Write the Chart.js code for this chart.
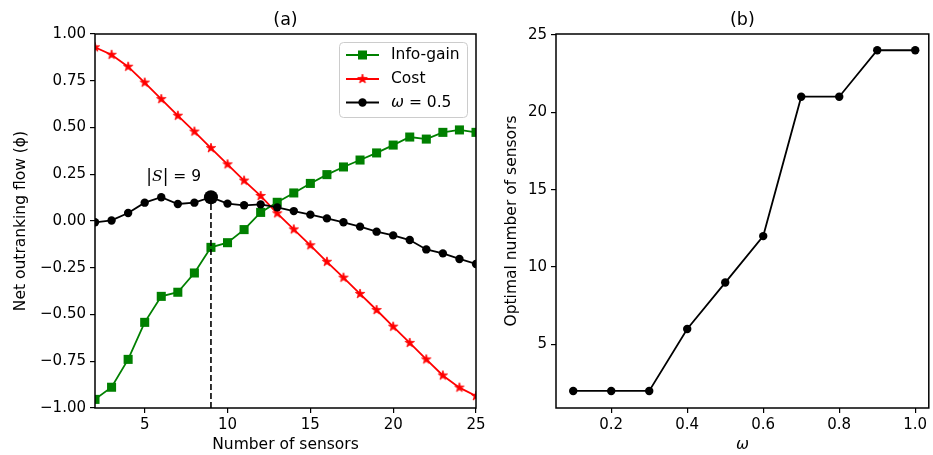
<!DOCTYPE html>
<html><head><meta charset="utf-8">
<script src="https://cdn.jsdelivr.net/npm/chart.js@4/dist/chart.umd.min.js"></script>
<style>
html,body{margin:0;padding:0;background:#fff;width:933px;height:455px;overflow:hidden}
#c1{position:absolute;left:0;top:0}
#c2{position:absolute;left:490px;top:0}
</style></head><body>
<canvas id="c1" width="490" height="455"></canvas>
<canvas id="c2" width="443" height="455"></canvas>
<script>
// ---------- data, panel (a) ----------
const sensors   = [2,3,4,5,6,7,8,9,10,11,12,13,14,15,16,17,18,19,20,21,22,23,24,25];
const infoGain  = [-0.954,-0.889,-0.740,-0.542,-0.403,-0.381,-0.278,-0.141,-0.116,-0.046,0.046,0.100,
                   0.150,0.201,0.248,0.289,0.326,0.364,0.406,0.449,0.438,0.474,0.487,0.474];
const cost      = [0.929,0.889,0.825,0.740,0.652,0.563,0.478,0.390,0.303,0.216,0.134,0.041,
                   -0.045,-0.130,-0.218,-0.303,-0.390,-0.476,-0.565,-0.652,-0.740,-0.826,-0.891,-0.936];
const omegaHalf = [-0.007,0.003,0.043,0.098,0.127,0.091,0.098,0.127,0.093,0.084,0.089,0.073,
                   0.053,0.034,0.014,-0.007,-0.030,-0.057,-0.077,-0.102,-0.152,-0.173,-0.203,-0.230];
const bestSize  = 9;
const seriesLabels = ['Info-gain','Cost','ω = 0.5'];
const sensorTicks = [5,10,15,20,25];
const flowTicks   = [-1,-0.75,-0.5,-0.25,0,0.25,0.5,0.75,1];
// ---------- data, panel (b) ----------
const omegas        = [0.1,0.2,0.3,0.4,0.5,0.6,0.7,0.8,0.9,1.0];
const optimalCounts = [2,2,2,6,9,12,21,21,24,24];
const omegaTicks    = [0.2,0.4,0.6,0.8,1.0];
const countTicks    = [5,10,15,20,25];

const FONT = "'DejaVu Sans'";
Chart.defaults.font.family = FONT;
Chart.defaults.font.size = 15;
Chart.defaults.color = '#000';
Chart.defaults.animation = false;

const GREEN = '#008000', RED = '#ff0000', BLACK = '#000000';

// filled five-point star marker (matplotlib '*')
function makeStar(rOut, color){
  const s = Math.ceil(rOut*2+2);
  const c = document.createElement('canvas'); c.width = s; c.height = s;
  const g = c.getContext('2d');
  const cx = s/2, cy = s/2, rIn = rOut*0.382;
  g.beginPath();
  for(let k=0;k<10;k++){
    const r = k%2===0 ? rOut : rIn;
    const a = -Math.PI/2 + k*Math.PI/5;
    const px = cx + r*Math.cos(a), py = cy + r*Math.sin(a);
    k===0 ? g.moveTo(px,py) : g.lineTo(px,py);
  }
  g.closePath();
  g.fillStyle = color; g.fill();
  g.strokeStyle = color; g.lineWidth = 0.8; g.stroke();
  return c;
}
const starImg = makeStar(5.0, RED);

function minusFmt(v, d){ const s = Math.abs(v).toFixed(d); return v < -1e-9 ? '\u2212'+s : s; }

const frame = {
  id:'frame',
  afterDatasetsDraw(chart){
    const {ctx, chartArea:a} = chart;
    ctx.save(); ctx.strokeStyle='#000'; ctx.lineWidth=1.5;
    ctx.strokeRect(a.left, a.top, a.right-a.left, a.bottom-a.top);
    ctx.restore();
  }
};
function panelTitle(text){
  return { id:'ptitle', afterDraw(chart){
    const {ctx, chartArea:a} = chart;
    ctx.save(); ctx.font = "17.5px "+FONT; ctx.fillStyle='#000';
    ctx.textAlign='center'; ctx.textBaseline='middle';
    ctx.fillText(text, (a.left+a.right)/2, 20.5);
    ctx.restore();
  }};
}

const legendPlugin = {
  id:'mplLegend',
  afterDraw(chart){
    const ctx = chart.ctx;
    const x0 = 339.5, y0 = 42.5, w = 128, h = 75, r = 4;
    ctx.save();
    ctx.beginPath(); ctx.roundRect(x0,y0,w,h,r);
    ctx.fillStyle='rgba(255,255,255,0.8)'; ctx.fill();
    ctx.strokeStyle='#cccccc'; ctx.lineWidth=1; ctx.stroke();
    const rows = [55, 79, 102.5];
    const cols = [GREEN, RED, BLACK];
    rows.forEach((ry,i)=>{
      ctx.strokeStyle = cols[i]; ctx.lineWidth = 2;
      ctx.beginPath(); ctx.moveTo(346, ry); ctx.lineTo(379, ry); ctx.stroke();
      const mx = 362.5;
      if(i===0){ ctx.fillStyle=GREEN; ctx.fillRect(mx-4.5, ry-4.5, 9, 9); }
      else if(i===1){ ctx.drawImage(starImg, mx-starImg.width/2, ry-starImg.height/2); }
      else { ctx.fillStyle=BLACK; ctx.beginPath(); ctx.arc(mx, ry, 4.2, 0, Math.PI*2); ctx.fill(); }
      ctx.fillStyle='#000'; ctx.textBaseline='middle'; ctx.textAlign='left';
      if(i<2){ ctx.font = "15.5px "+FONT; ctx.fillText(seriesLabels[i], 391, ry); }
      else {
        ctx.font = "italic 15.5px "+FONT; ctx.fillText('ω', 391, ry);
        const wo = ctx.measureText('ω').width;
        ctx.font = "15.5px "+FONT; ctx.fillText(seriesLabels[2].slice(1), 391+wo, ry);
      }
    });
    ctx.restore();
  }
};

const annot = {
  id:'annot',
  afterDatasetsDraw(chart){
    const {ctx, scales:{x,y}} = chart;
    const px = x.getPixelForValue(5.1), py = y.getPixelForValue(0.215);
    ctx.save(); ctx.fillStyle='#000'; ctx.textBaseline='alphabetic'; ctx.textAlign='left';
    let cx = px;
    ctx.font = "17px "+FONT; ctx.fillText('|', cx, py+1); cx += ctx.measureText('|').width;
    ctx.font = "italic 15.5px 'DejaVu Serif'"; ctx.fillText('S', cx, py); cx += ctx.measureText('S').width;
    ctx.font = "17px "+FONT; ctx.fillText('|', cx, py+1); cx += ctx.measureText('|').width;
    ctx.font = "15.5px "+FONT; ctx.fillText(' = ' + bestSize, cx, py);
    ctx.restore();
  }
};

function axisCommon(){
  return {
    grid:{display:true, drawOnChartArea:false, drawTicks:true, tickLength:5, color:'#000', lineWidth:1.2},
    border:{display:false},
  };
}

const bestIdx = sensors.indexOf(bestSize);

new Chart(document.getElementById('c1'), {
  type:'line',
  data:{ datasets:[
    { label:seriesLabels[0], data:sensors.map((s,i)=>({x:s,y:infoGain[i]})),
      borderColor:GREEN, backgroundColor:GREEN, borderWidth:1.8, pointStyle:'rect',
      pointRadius:6.4, pointBorderWidth:0, clip:0, order:5 },
    { label:seriesLabels[1], data:sensors.map((s,i)=>({x:s,y:cost[i]})),
      borderColor:RED, backgroundColor:RED, borderWidth:1.8, pointStyle:starImg,
      pointRadius:5.0, clip:0, order:4 },
    { label:seriesLabels[2], data:sensors.map((s,i)=>({x:s,y:omegaHalf[i]})),
      borderColor:BLACK, backgroundColor:BLACK, borderWidth:1.8, pointStyle:'circle',
      pointRadius:4.2, pointBorderWidth:0, clip:0, order:3 },
    { label:'opt-line', data:[{x:bestSize,y:flowTicks[0]},{x:bestSize,y:omegaHalf[bestIdx]}],
      borderColor:BLACK, borderWidth:1.6, borderDash:[6,3], pointRadius:0, clip:0, order:2 },
    { label:'opt-point', data:[{x:bestSize,y:omegaHalf[bestIdx]}],
      borderColor:BLACK, backgroundColor:BLACK, showLine:false, pointRadius:7, pointBorderWidth:0, clip:0, order:1 }
  ]},
  options:{
    responsive:false, devicePixelRatio:1, animation:false,
    layout:{padding:{top:34, right:14, left:0, bottom:0}},
    plugins:{legend:{display:false}, tooltip:{enabled:false}},
    scales:{
      x:{ type:'linear', min:2, max:25, ...axisCommon(),
          afterBuildTicks(s){ s.ticks = sensorTicks.map(v=>({value:v})); },
          afterFit(s){ s.height = 47; },
          ticks:{ padding:3, callback:v=>String(v), maxRotation:0, autoSkip:false },
          title:{ display:true, text:'Number of sensors', padding:{top:0,bottom:1}, font:{size:15.5} } },
      y:{ type:'linear', min:-1, max:1, ...axisCommon(),
          afterBuildTicks(s){ s.ticks = flowTicks.map(v=>({value:v})); },
          afterFit(s){ s.width = 95; },
          ticks:{ padding:4, callback:v=>minusFmt(v,2), autoSkip:false },
          title:{ display:true, text:'Net outranking flow (ϕ)', padding:{top:12,bottom:0}, font:{size:15.5} } }
    }
  },
  plugins:[frame, panelTitle('(a)'), legendPlugin, annot]
});

new Chart(document.getElementById('c2'), {
  type:'line',
  data:{ datasets:[
    { label:'optimal', data:omegas.map((w,i)=>({x:w,y:optimalCounts[i]})),
      borderColor:BLACK, backgroundColor:BLACK, borderWidth:1.8, pointStyle:'circle',
      pointRadius:4.2, pointBorderWidth:0 }
  ]},
  options:{
    responsive:false, devicePixelRatio:1, animation:false,
    layout:{padding:{top:34, right:1, left:0, bottom:0}},
    plugins:{legend:{display:false}, tooltip:{enabled:false}},
    scales:{
      x:{ type:'linear', min:0.0547, max:1.0357, ...axisCommon(),
          afterBuildTicks(s){ s.ticks = omegaTicks.map(v=>({value:v})); },
          afterFit(s){ s.height = 47; },
          ticks:{ padding:3, callback:v=>v.toFixed(1), maxRotation:0, autoSkip:false },
          title:{ display:true, text:'ω', padding:{top:0,bottom:1}, font:{size:15.5, style:'italic'} } },
      y:{ type:'linear', min:0.9, max:25.05, ...axisCommon(),
          afterBuildTicks(s){ s.ticks = countTicks.map(v=>({value:v})); },
          afterFit(s){ s.width = 66; },
          ticks:{ padding:4, callback:v=>String(v), autoSkip:false },
          title:{ display:true, text:'Optimal number of sensors', padding:{top:13,bottom:0}, font:{size:15.5} } }
    }
  },
  plugins:[frame, panelTitle('(b)')]
});
</script>
</body></html>
